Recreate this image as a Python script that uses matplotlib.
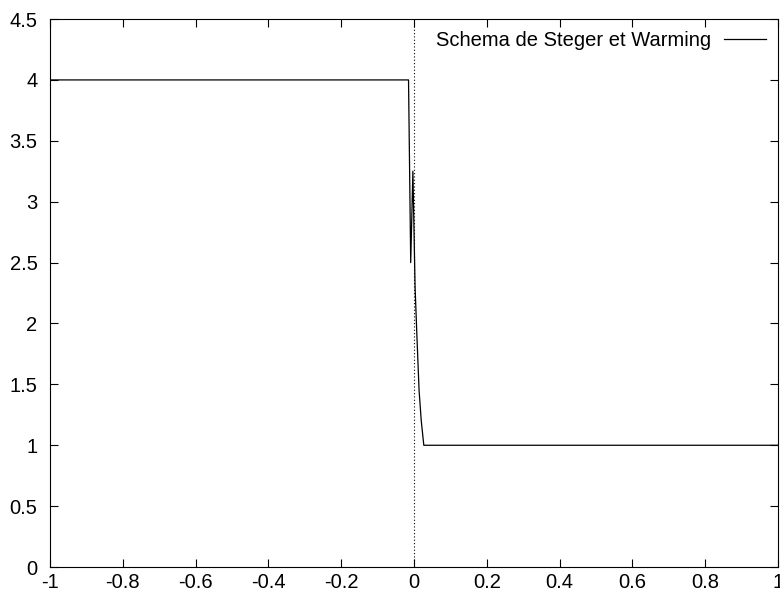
import matplotlib
matplotlib.use("Agg")
import matplotlib.pyplot as plt
import numpy as np

plt.rcParams['font.family'] = ['Liberation Sans', 'DejaVu Sans']

# solution profile
x = [-1.0, -0.015, -0.009, -0.003, 0.003, 0.008, 0.014, 0.02, 0.027, 1.0]
u = [4.0, 4.0, 2.5, 3.25, 2.3, 1.9, 1.45, 1.2, 1.0, 1.0]

xticks = np.arange(-1.0, 1.01, 0.2)
yticks = np.arange(0.0, 4.51, 0.5)

def fmt(v):
    s = "%g" % round(v, 6)
    return "0" if s == "-0" else s

fig = plt.figure(figsize=(7.8, 5.95), dpi=100)
ax = fig.add_axes([0.0641, 0.047, 0.9333, 0.921])

ax.plot(x, u, color='black', lw=0.9, label='Schema de Steger et Warming')
ax.axvline(0, color='black', lw=0.8, ls=(0, (1, 2)))

ax.set_xlim(-1, 1)
ax.set_ylim(0, 4.5)
ax.set_xticks(xticks)
ax.set_xticklabels([fmt(v) for v in xticks])
ax.set_yticks(yticks)
ax.set_yticklabels([fmt(v) for v in yticks])
ax.tick_params(direction='in', length=6, width=0.8, top=True, right=True,
               labelsize=14.5)
ax.tick_params(axis='x', pad=4)
ax.tick_params(axis='y', pad=9)
for sp in ax.spines.values():
    sp.set_linewidth(0.8)

leg = ax.legend(loc='upper right', frameon=False, fontsize=14.5,
                markerfirst=False, handlelength=2.1, handletextpad=0.6,
                borderaxespad=0.3, borderpad=0.3)

fig.savefig('out.png', dpi=100)
